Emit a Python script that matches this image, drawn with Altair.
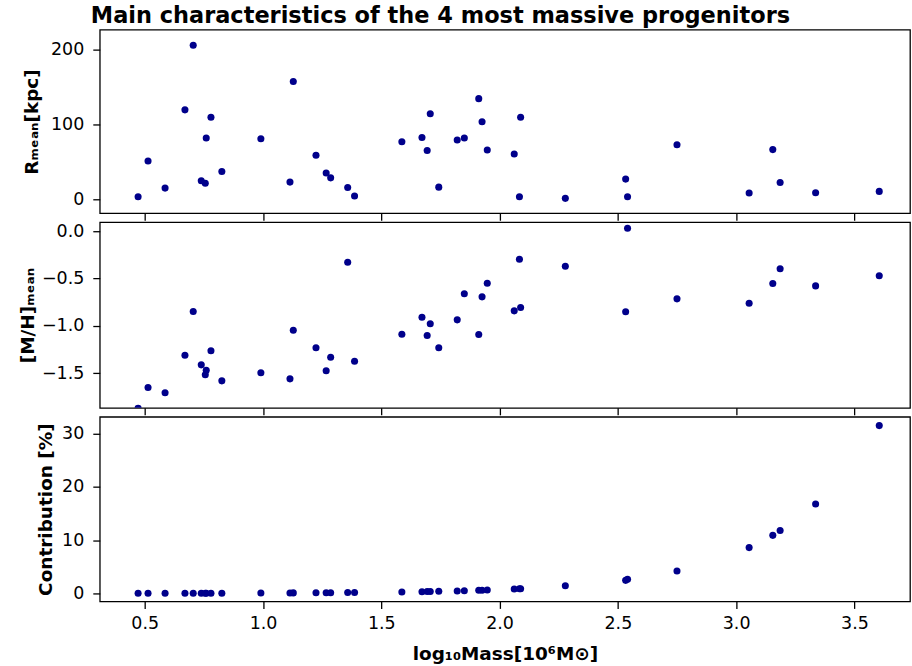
import altair as alt
import pandas as pd

# log10 mass of each progenitor (units of 1e6 solar masses)
mass = [0.472, 0.514, 0.586, 0.670, 0.705, 0.739, 0.756, 0.760, 0.780, 0.826,
        0.991, 1.114, 1.128, 1.224, 1.267, 1.286, 1.358, 1.387, 1.587, 1.672,
        1.694, 1.707, 1.743, 1.821, 1.851, 1.912, 1.926, 1.948, 2.062, 2.084,
        2.089, 2.278, 2.533, 2.541, 2.750, 3.055, 3.155, 3.186, 3.336, 3.605]

# mean galactocentric radius [kpc]
r_mean = [3.5, 51.3, 15.0, 119.5, 205.8, 24.7, 21.6, 81.8, 109.7, 37.2,
          81.0, 23.0, 157.5, 58.8, 35.3, 28.7, 15.9, 4.4, 77.0, 82.7,
          65.1, 114.2, 16.3, 79.2, 81.8, 134.5, 103.6, 65.9, 60.6, 3.5,
          109.7, 1.3, 27.0, 3.5, 73.0, 8.4, 66.4, 22.6, 8.8, 10.6]

# mean metallicity [M/H]
mh_mean = [-1.87, -1.650, -1.706, -1.309, -0.848, -1.411, -1.516, -1.468, -1.263, -1.580,
           -1.495, -1.559, -1.045, -1.231, -1.474, -1.331, -0.327, -1.373, -1.088, -0.908,
           -1.101, -0.978, -1.231, -0.936, -0.661, -1.091, -0.693, -0.549, -0.841, -0.296,
           -0.806, -0.370, -0.851, 0.032, -0.714, -0.760, -0.552, -0.397, -0.577, -0.471]

# contribution to the total stellar mass [%]
contribution = [0.02, 0.02, 0.03, 0.03, 0.03, 0.04, 0.04, 0.04, 0.04, 0.05,
                0.07, 0.09, 0.10, 0.12, 0.13, 0.14, 0.16, 0.17, 0.27, 0.33,
                0.35, 0.36, 0.39, 0.47, 0.50, 0.58, 0.60, 0.63, 0.82, 0.86,
                0.87, 1.44, 2.45, 2.65, 4.2, 8.6, 10.9, 11.8, 16.8, 31.5]

x_ticks = [0.5, 1.0, 1.5, 2.0, 2.5, 3.0, 3.5]
r_ticks = [0, 100, 200]
mh_ticks = [-1.5, -1.0, -0.5, 0.0]
c_ticks = [0, 10, 20, 30]

df = pd.DataFrame({"mass": mass, "r": r_mean, "mh": mh_mean, "contrib": contribution})

FONT = "DejaVu Sans"
POINT = "#00008b"
X_DOMAIN = [0.31, 3.735]


def panel(field, ytitle, ydomain, yticks, yformat, height, bottom, ypad):
    xaxis = alt.Axis(values=x_ticks, format=".1f", labels=bottom,
                     titleFontWeight="bold", titlePadding=13, labelPadding=6)
    return alt.Chart(df).mark_circle(size=50, color=POINT, opacity=1, clip=True).encode(
        x=alt.X("mass:Q",
                scale=alt.Scale(domain=X_DOMAIN, nice=False, zero=False),
                axis=xaxis,
                title="log\u2081\u2080Mass[10\u2076M\u2299]" if bottom else None),
        y=alt.Y(f"{field}:Q",
                scale=alt.Scale(domain=ydomain, nice=False, zero=False),
                axis=alt.Axis(values=yticks, format=yformat, labelPadding=9,
                              titlePadding=ypad),
                title=ytitle),
    ).properties(width=812, height=height)


top = panel("r", "R\u2098\u2091\u2090\u2099[kpc]", [-18.6, 226.6], r_ticks, "d", 184, False, 9)
mid = panel("mh", "[M/H]\u2098\u2091\u2090\u2099", [-1.865, 0.095], mh_ticks, ".1f", 186, False, 4)
bot = panel("contrib", "Contribution [%]", [-1.5, 33.15], c_ticks, "d", 185, True, 6)

chart = alt.vconcat(top, mid, bot, spacing=9, bounds="flush").properties(
    title=alt.TitleParams(
        "Main characteristics of the 4 most massive progenitors",
        anchor="start", frame="group", fontSize=22.5, fontWeight="bold", font=FONT,
        color="black", dx=-9, offset=2,
    ),
    padding={"left": 17, "top": 3, "right": 1, "bottom": 2},
).configure_view(
    stroke="black", strokeWidth=1.3,
).configure_axis(
    grid=False, domain=False,
    labelFont=FONT, labelFontSize=17.5, labelColor="black",
    titleFont=FONT, titleFontSize=18.5, titleFontWeight="bold", titleColor="black",
    tickColor="black", tickSize=7, tickWidth=1.3,
)

chart.save("out.html", embed_options={"renderer": "svg", "actions": False})
